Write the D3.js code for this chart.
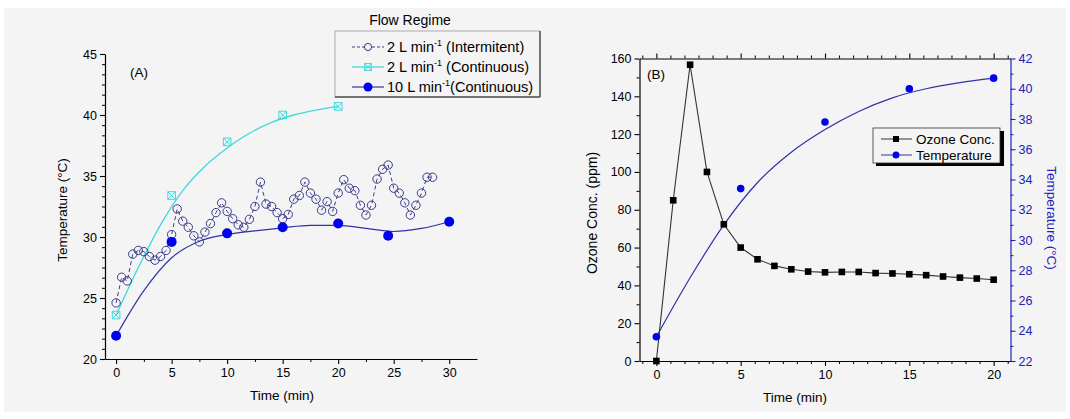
<!DOCTYPE html>
<html><head><meta charset="utf-8">
<script src="https://cdn.jsdelivr.net/npm/d3@7"></script>
<style>
body{margin:0;background:#fff}
svg{display:block;font-family:"Liberation Sans",Arial,sans-serif}
</style></head>
<body><svg id="c" width="1070" height="419"></svg>
<script>
// ---------- Panel A data ----------
const intermTime=[0,0.5,1,1.5,2,2.5,3,3.5,4,4.5,5,5.5,6,6.5,7,7.5,8,8.5,9,9.5,10,10.5,11,11.5,12,12.5,13,13.5,14,14.5,15,15.5,16,16.5,17,17.5,18,18.5,19,19.5,20,20.5,21,21.5,22,22.5,23,23.5,24,24.5,25,25.5,26,26.5,27,27.5,28,28.5];
const intermTemp=[24.6,26.7,26.4,28.6,28.9,28.8,28.4,28.1,28.4,28.9,30.2,32.3,31.3,30.8,30.1,29.6,30.4,31.1,32.0,32.8,32.1,31.5,31.0,30.8,31.45,32.5,34.5,32.7,32.5,32.0,31.5,31.85,33.1,33.4,34.5,33.6,33.1,32.2,32.9,32.1,33.6,34.7,34.0,33.8,32.6,31.8,32.6,34.75,35.55,35.9,34.0,33.6,32.8,31.8,32.6,33.6,34.9,34.9];
const cont2Time=[0,5,10,15,20];
const cont2Temp=[23.6,33.4,37.8,40.0,40.7];
const cont2FitTime=[0,2,4,6,8,10,12,14,16,18,20];
const cont2FitTemp=[23.6,27.5,31.0,33.8,35.8,37.3,38.5,39.4,40.0,40.4,40.7];
const cont10Time=[0,5,10,15,20,24.5,30];
const cont10Temp=[21.9,29.6,30.3,30.8,31.1,30.1,31.25];
const cont10FitTime=[0,2.5,5,7.5,10,12.5,15,17.5,20,22.5,25,27.5,30];
const cont10FitTemp=[21.9,25.6,28.3,29.65,30.2,30.5,30.75,30.95,30.95,30.7,30.45,30.7,31.25];
const aXTicks=[0,5,10,15,20,25,30];
const aYTicks=[20,25,30,35,40,45];
const legendA=["2 L min","2 L min","10 L min"];
const legendASuffix=[" (Intermitent)"," (Continuous)","(Continuous)"];

// ---------- Panel B data ----------
const ozoneTime=[0,1,2,3,4,5,6,7,8,9,10,11,12,13,14,15,16,17,18,19,20];
const ozoneConc=[0,85,156.7,100,72.3,60,53.8,50.3,48.5,47.3,46.9,47.1,47.1,46.5,46.3,45.9,45.4,44.7,44.1,43.6,43.0];
const tempTime=[0,5,10,15,20];
const tempVal=[23.6,33.4,37.8,40.0,40.7];
const tempFitTime=[0,2,4,6,8,10,12,14,16,18,20];
const tempFitVal=[23.6,27.5,31.0,33.8,35.8,37.3,38.5,39.4,40.0,40.4,40.7];
const bXTicks=[0,5,10,15,20];
const bYTicks=[0,20,40,60,80,100,120,140,160];
const bY2Ticks=[22,24,26,28,30,32,34,36,38,40,42];

const svg=d3.select("#c");
svg.append("rect").attr("x",4).attr("y",8).attr("width",1062).attr("height",404).attr("fill","#f4f4f4");

const FS=12.5, TFS=13.5;
function styleAxis(g,color){
  g.select(".domain").attr("stroke",color).attr("stroke-width",1.2);
  g.selectAll(".tick line").attr("stroke",color).attr("stroke-width",1.1);
  g.selectAll(".tick text").attr("fill",color).attr("font-size",FS).attr("font-family","Liberation Sans, Arial, sans-serif");
}
function minorVals(major,nMinor){
  const out=[];
  for(let i=0;i<major.length-1;i++){
    const a=major[i],b=major[i+1];
    for(let k=1;k<=nMinor;k++) out.push(a+(b-a)*k/(nMinor+1));
  }
  return out;
}

// ================= Panel A =================
const ax=d3.scaleLinear().domain([-1,32.5]).range([105,477]);
const ay=d3.scaleLinear().domain([20,45]).range([359,54]);

let g=svg.append("g").attr("transform","translate(0,359)")
  .call(d3.axisBottom(ax).tickValues(aXTicks).tickSize(5).tickSizeOuter(0).tickPadding(4));
styleAxis(g,"#000");
g=svg.append("g").attr("transform","translate(0,359)")
  .call(d3.axisBottom(ax).tickValues(minorVals(aXTicks,1)).tickSize(3).tickFormat("").tickSizeOuter(0));
g.select(".domain").remove(); g.selectAll("line").attr("stroke","#000");
g=svg.append("g").attr("transform","translate(105,0)")
  .call(d3.axisLeft(ay).tickValues(aYTicks).tickSize(5).tickSizeOuter(0).tickPadding(3));
styleAxis(g,"#000");
g=svg.append("g").attr("transform","translate(105,0)")
  .call(d3.axisLeft(ay).tickValues(minorVals(aYTicks,5)).tickSize(3).tickFormat("").tickSizeOuter(0));
g.select(".domain").remove(); g.selectAll("line").attr("stroke","#000");

svg.append("text").attr("x",282).attr("y",400).attr("text-anchor","middle").attr("font-size",TFS).text("Time (min)");
svg.append("text").attr("transform","translate(67,210) rotate(-90)").attr("text-anchor","middle").attr("font-size",TFS).text("Temperature (°C)");
svg.append("text").attr("x",130).attr("y",77).attr("font-size",TFS).text("(A)");

const navy="#3a3a8a", cyan="#40d8dc", blue="#0000f0", blueLine="#3232a8";

// fits
svg.append("path").attr("d",d3.line().x(d=>ax(d[0])).y(d=>ay(d[1])).curve(d3.curveMonotoneX)(cont2FitTime.map((t,i)=>[t,cont2FitTemp[i]])))
  .attr("fill","none").attr("stroke",cyan).attr("stroke-width",1.3);
svg.append("path").attr("d",d3.line().x(d=>ax(d[0])).y(d=>ay(d[1])).curve(d3.curveMonotoneX)(cont10FitTime.map((t,i)=>[t,cont10FitTemp[i]])))
  .attr("fill","none").attr("stroke",blueLine).attr("stroke-width",1.2);
// intermittent dashed
svg.append("path").attr("d",d3.line().x(d=>ax(d[0])).y(d=>ay(d[1]))(intermTime.map((t,i)=>[t,intermTemp[i]])))
  .attr("fill","none").attr("stroke",navy).attr("stroke-width",1).attr("stroke-dasharray","4,3");

function boxX(sel,x,y,s,c){
  sel.append("path").attr("d",`M${x-s},${y-s}h${2*s}v${2*s}h${-2*s}z M${x-s},${y-s}L${x+s},${y+s} M${x+s},${y-s}L${x-s},${y+s}`)
    .attr("fill","none").attr("stroke",c).attr("stroke-width",1);
}
intermTime.forEach((t,i)=>{
  svg.append("circle").attr("cx",ax(t)).attr("cy",ay(intermTemp[i])).attr("r",4.2)
    .attr("fill","none").attr("stroke",navy).attr("stroke-width",1);
});
cont2Time.forEach((t,i)=>boxX(svg,ax(t),ay(cont2Temp[i]),3.8,cyan));
cont10Time.forEach((t,i)=>{
  svg.append("circle").attr("cx",ax(t)).attr("cy",ay(cont10Temp[i])).attr("r",5).attr("fill",blue);
});

// legend A
svg.append("text").attr("x",410).attr("y",25).attr("text-anchor","middle").attr("font-size",TFS+0.5).text("Flow Regime");
svg.append("rect").attr("x",335).attr("y",31).attr("width",205).attr("height",66).attr("fill","#f4f4f4").attr("stroke","#999").attr("stroke-width",0.8);
svg.append("line").attr("x1",540).attr("y1",31).attr("x2",540).attr("y2",97).attr("stroke","#555").attr("stroke-width",1.5);
svg.append("line").attr("x1",335).attr("y1",97).attr("x2",540).attr("y2",97).attr("stroke","#555").attr("stroke-width",1.5);
const legY=[47,67,87];
legendA.forEach((txt,i)=>{
  const y=legY[i];
  const ln=svg.append("line").attr("x1",352).attr("x2",384).attr("y1",y).attr("y2",y);
  if(i===0){ln.attr("stroke",navy).attr("stroke-dasharray","3,2");
    svg.append("circle").attr("cx",368).attr("cy",y).attr("r",3.6).attr("fill","#f4f4f4").attr("stroke",navy);}
  if(i===1){ln.attr("stroke",cyan).attr("stroke-width",1.3); boxX(svg,368,y,3.4,cyan);}
  if(i===2){ln.attr("stroke",blueLine).attr("stroke-width",1.2); svg.append("circle").attr("cx",368).attr("cy",y).attr("r",4.5).attr("fill",blue);}
  const t=svg.append("text").attr("x",387).attr("y",y+5).attr("font-size",14.5);
  t.append("tspan").text(txt);
  t.append("tspan").attr("dy",-6).attr("font-size",9).text("-1");
  t.append("tspan").attr("dy",6).text(legendASuffix[i]);
});

// ================= Panel B =================
const bx=d3.scaleLinear().domain([-1,21]).range([639.5,1010.5]);
const by=d3.scaleLinear().domain([0,160]).range([361,58.5]);
const by2=d3.scaleLinear().domain([22,42]).range([361,58.5]);
const axisBlue="#2020b8";

g=svg.append("g").attr("transform","translate(0,361)")
  .call(d3.axisBottom(bx).tickValues(bXTicks).tickSize(5).tickSizeOuter(0).tickPadding(4));
styleAxis(g,"#000");
const bxMinor=[];
for(let k=-1;k<=25;k++){const v=k*5/6; if(v>=-1&&v<=21&&Math.abs(v/5-Math.round(v/5))>1e-6) bxMinor.push(v);}
g=svg.append("g").attr("transform","translate(0,361)")
  .call(d3.axisBottom(bx).tickValues(bxMinor).tickSize(3).tickFormat("").tickSizeOuter(0));
g.select(".domain").remove(); g.selectAll("line").attr("stroke","#000");
// top
g=svg.append("g").attr("transform","translate(0,58.5)")
  .call(d3.axisTop(bx).tickValues(bXTicks).tickSize(5).tickFormat("").tickSizeOuter(0));
styleAxis(g,"#000");
g=svg.append("g").attr("transform","translate(0,58.5)")
  .call(d3.axisTop(bx).tickValues(bxMinor).tickSize(3).tickFormat("").tickSizeOuter(0));
g.select(".domain").remove(); g.selectAll("line").attr("stroke","#000");
// left
g=svg.append("g").attr("transform","translate(639.5,0)")
  .call(d3.axisLeft(by).tickValues(bYTicks).tickSize(5).tickSizeOuter(0).tickPadding(3));
styleAxis(g,"#000");
g=svg.append("g").attr("transform","translate(639.5,0)")
  .call(d3.axisLeft(by).tickValues(minorVals(bYTicks,1)).tickSize(3).tickFormat("").tickSizeOuter(0));
g.select(".domain").remove(); g.selectAll("line").attr("stroke","#000");
// right (blue)
g=svg.append("g").attr("transform","translate(1010.5,0)")
  .call(d3.axisRight(by2).tickValues(bY2Ticks).tickSize(5).tickSizeOuter(0).tickPadding(3));
styleAxis(g,axisBlue);
g=svg.append("g").attr("transform","translate(1010.5,0)")
  .call(d3.axisRight(by2).tickValues(minorVals(bY2Ticks,1)).tickSize(3).tickFormat("").tickSizeOuter(0));
g.select(".domain").remove(); g.selectAll("line").attr("stroke",axisBlue);

svg.append("text").attr("x",795).attr("y",402).attr("text-anchor","middle").attr("font-size",TFS).text("Time (min)");
svg.append("text").attr("transform","translate(597,213) rotate(-90)").attr("text-anchor","middle").attr("font-size",TFS+0.5).text("Ozone Conc. (ppm)");
svg.append("text").attr("transform","translate(1047,218) rotate(90)").attr("text-anchor","middle").attr("font-size",TFS).attr("fill",axisBlue).text("Temperature (°C)");
svg.append("text").attr("x",647).attr("y",79).attr("font-size",TFS).text("(B)");

svg.append("path").attr("d",d3.line().x(d=>bx(d[0])).y(d=>by2(d[1])).curve(d3.curveMonotoneX)(tempFitTime.map((t,i)=>[t,tempFitVal[i]])))
  .attr("fill","none").attr("stroke",blueLine).attr("stroke-width",1.2);
svg.append("path").attr("d",d3.line().x(d=>bx(d[0])).y(d=>by(d[1]))(ozoneTime.map((t,i)=>[t,ozoneConc[i]])))
  .attr("fill","none").attr("stroke","#333").attr("stroke-width",1.1);
ozoneTime.forEach((t,i)=>{
  svg.append("rect").attr("x",bx(t)-3.3).attr("y",by(ozoneConc[i])-3.3).attr("width",6.6).attr("height",6.6).attr("fill","#000");
});
tempTime.forEach((t,i)=>{
  svg.append("circle").attr("cx",bx(t)).attr("cy",by2(tempVal[i])).attr("r",3.8).attr("fill",blue);
});

// legend B
svg.append("rect").attr("x",876).attr("y",131).attr("width",128).attr("height",35).attr("fill","#000");
svg.append("rect").attr("x",873).attr("y",128).attr("width",127).attr("height",35).attr("fill","#f4f4f4").attr("stroke","#333").attr("stroke-width",0.8);
svg.append("line").attr("x1",881).attr("x2",912).attr("y1",139).attr("y2",139).attr("stroke","#333");
svg.append("rect").attr("x",893).attr("y",136).attr("width",6).attr("height",6).attr("fill","#000");
svg.append("text").attr("x",916).attr("y",144).attr("font-size",TFS).text("Ozone Conc.");
svg.append("line").attr("x1",881).attr("x2",912).attr("y1",155).attr("y2",155).attr("stroke",blueLine);
svg.append("circle").attr("cx",896).attr("cy",155).attr("r",3.5).attr("fill",blue);
svg.append("text").attr("x",916).attr("y",160).attr("font-size",TFS).text("Temperature");
</script></body></html>
